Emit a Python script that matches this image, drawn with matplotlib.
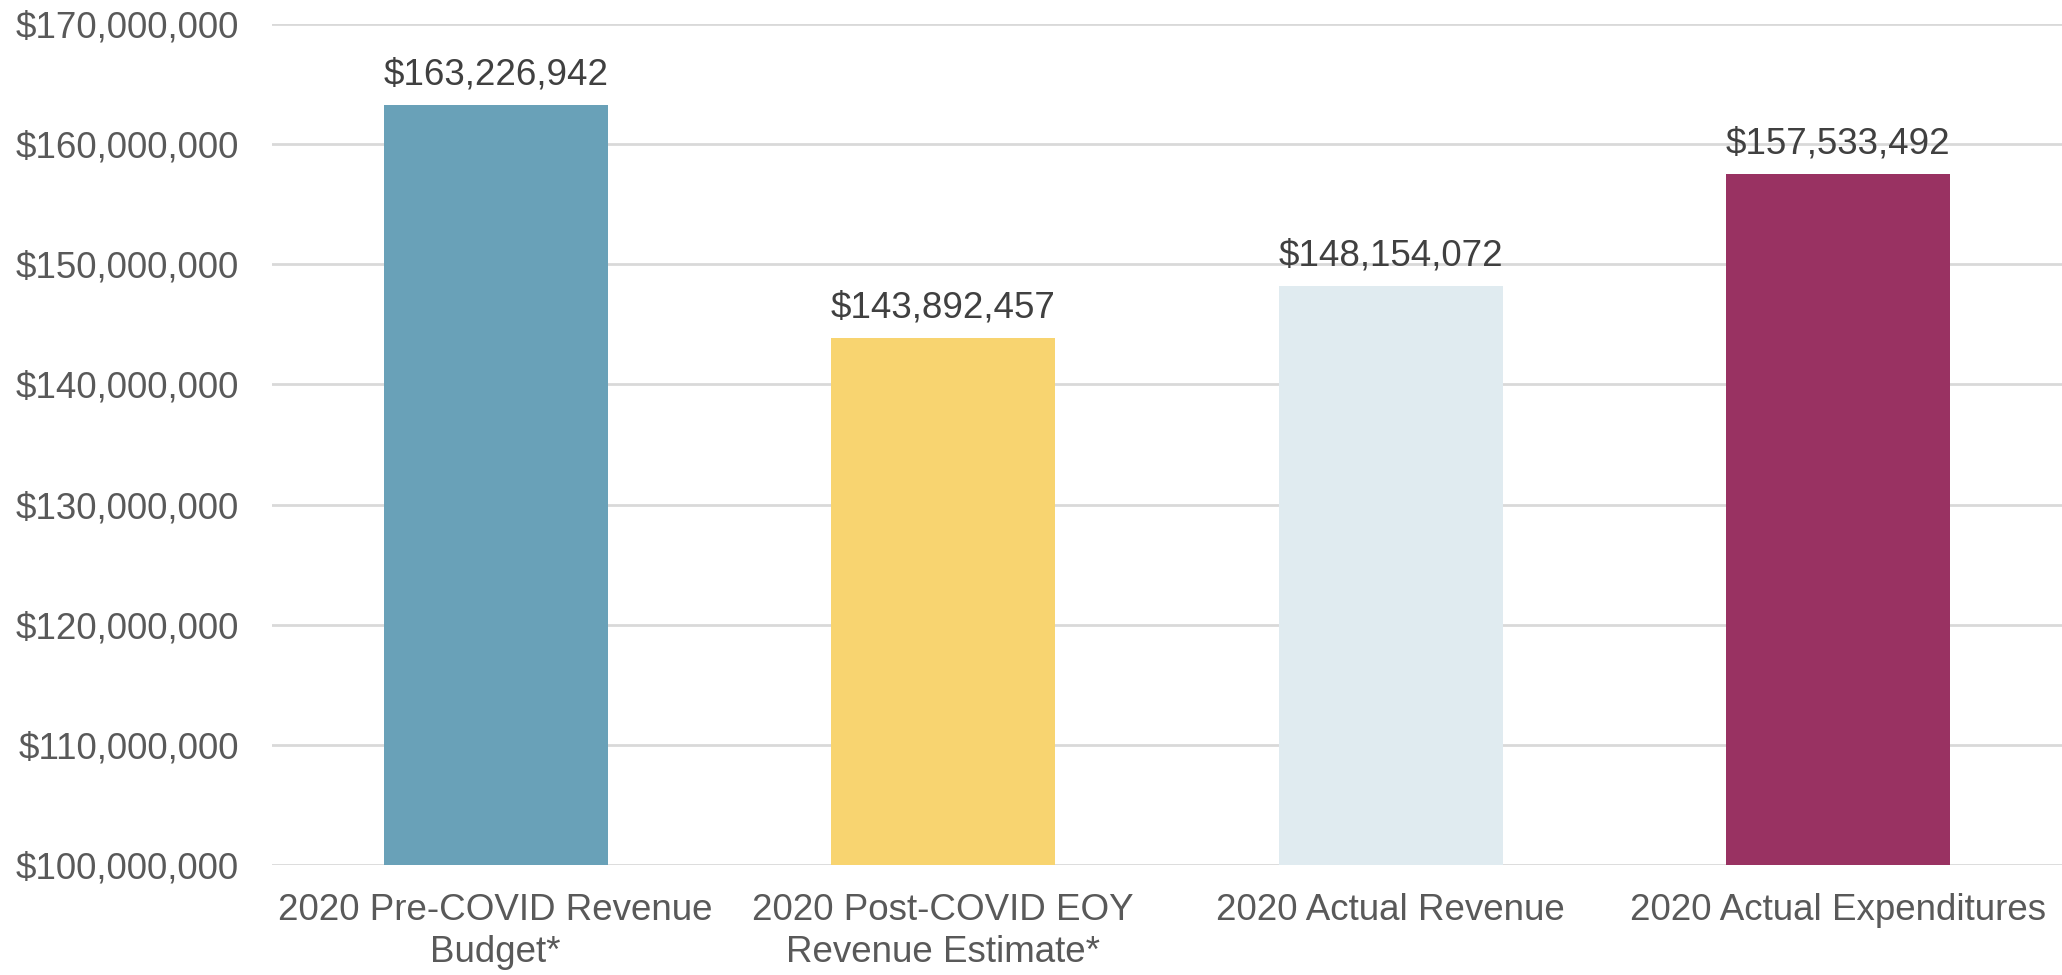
import matplotlib
matplotlib.use("Agg")
import matplotlib.pyplot as plt
from matplotlib.ticker import FuncFormatter, MultipleLocator

plt.rcParams['font.family'] = ['Liberation Sans', 'DejaVu Sans']

# Data
categories = ['2020 Pre-COVID Revenue\nBudget*', '2020 Post-COVID EOY\nRevenue Estimate*',
              '2020 Actual Revenue', '2020 Actual Expenditures']
values = [163226942, 143892457, 148154072, 157533492]
colors = ['#69A1B8', '#F8D470', '#E0EBF0', '#993262']

fig = plt.figure(figsize=(20.62, 9.75), dpi=100)
ax = fig.add_axes([0.1319, 0.1128, 0.8681, 0.8626])

x = range(len(categories))
ax.bar(x, values, width=0.5, color=colors, zorder=3)

for xi, v in zip(x, values):
    ax.annotate(f'${v:,.0f}', (xi, v), xytext=(0, 9), textcoords='offset points',
                ha='center', va='bottom', fontsize=26.5, color='#404040')

ax.set_ylim(100000000, 170000000)
ax.set_xlim(-0.5, 3.5)
ax.yaxis.set_major_locator(MultipleLocator(10000000))
ax.yaxis.set_major_formatter(FuncFormatter(lambda v, p: f'${v:,.0f}'))
ax.set_xticks(list(x))
ax.set_xticklabels(categories, linespacing=1.25)
ax.tick_params(axis='both', length=0, labelsize=26.5, labelcolor='#595959')
ax.tick_params(axis='x', pad=20)
ax.tick_params(axis='y', pad=24)
ax.grid(axis='y', color='#D9D9D9', linewidth=2, zorder=0)
for s in ax.spines.values():
    s.set_visible(False)

fig.savefig('out.png', dpi=100)
